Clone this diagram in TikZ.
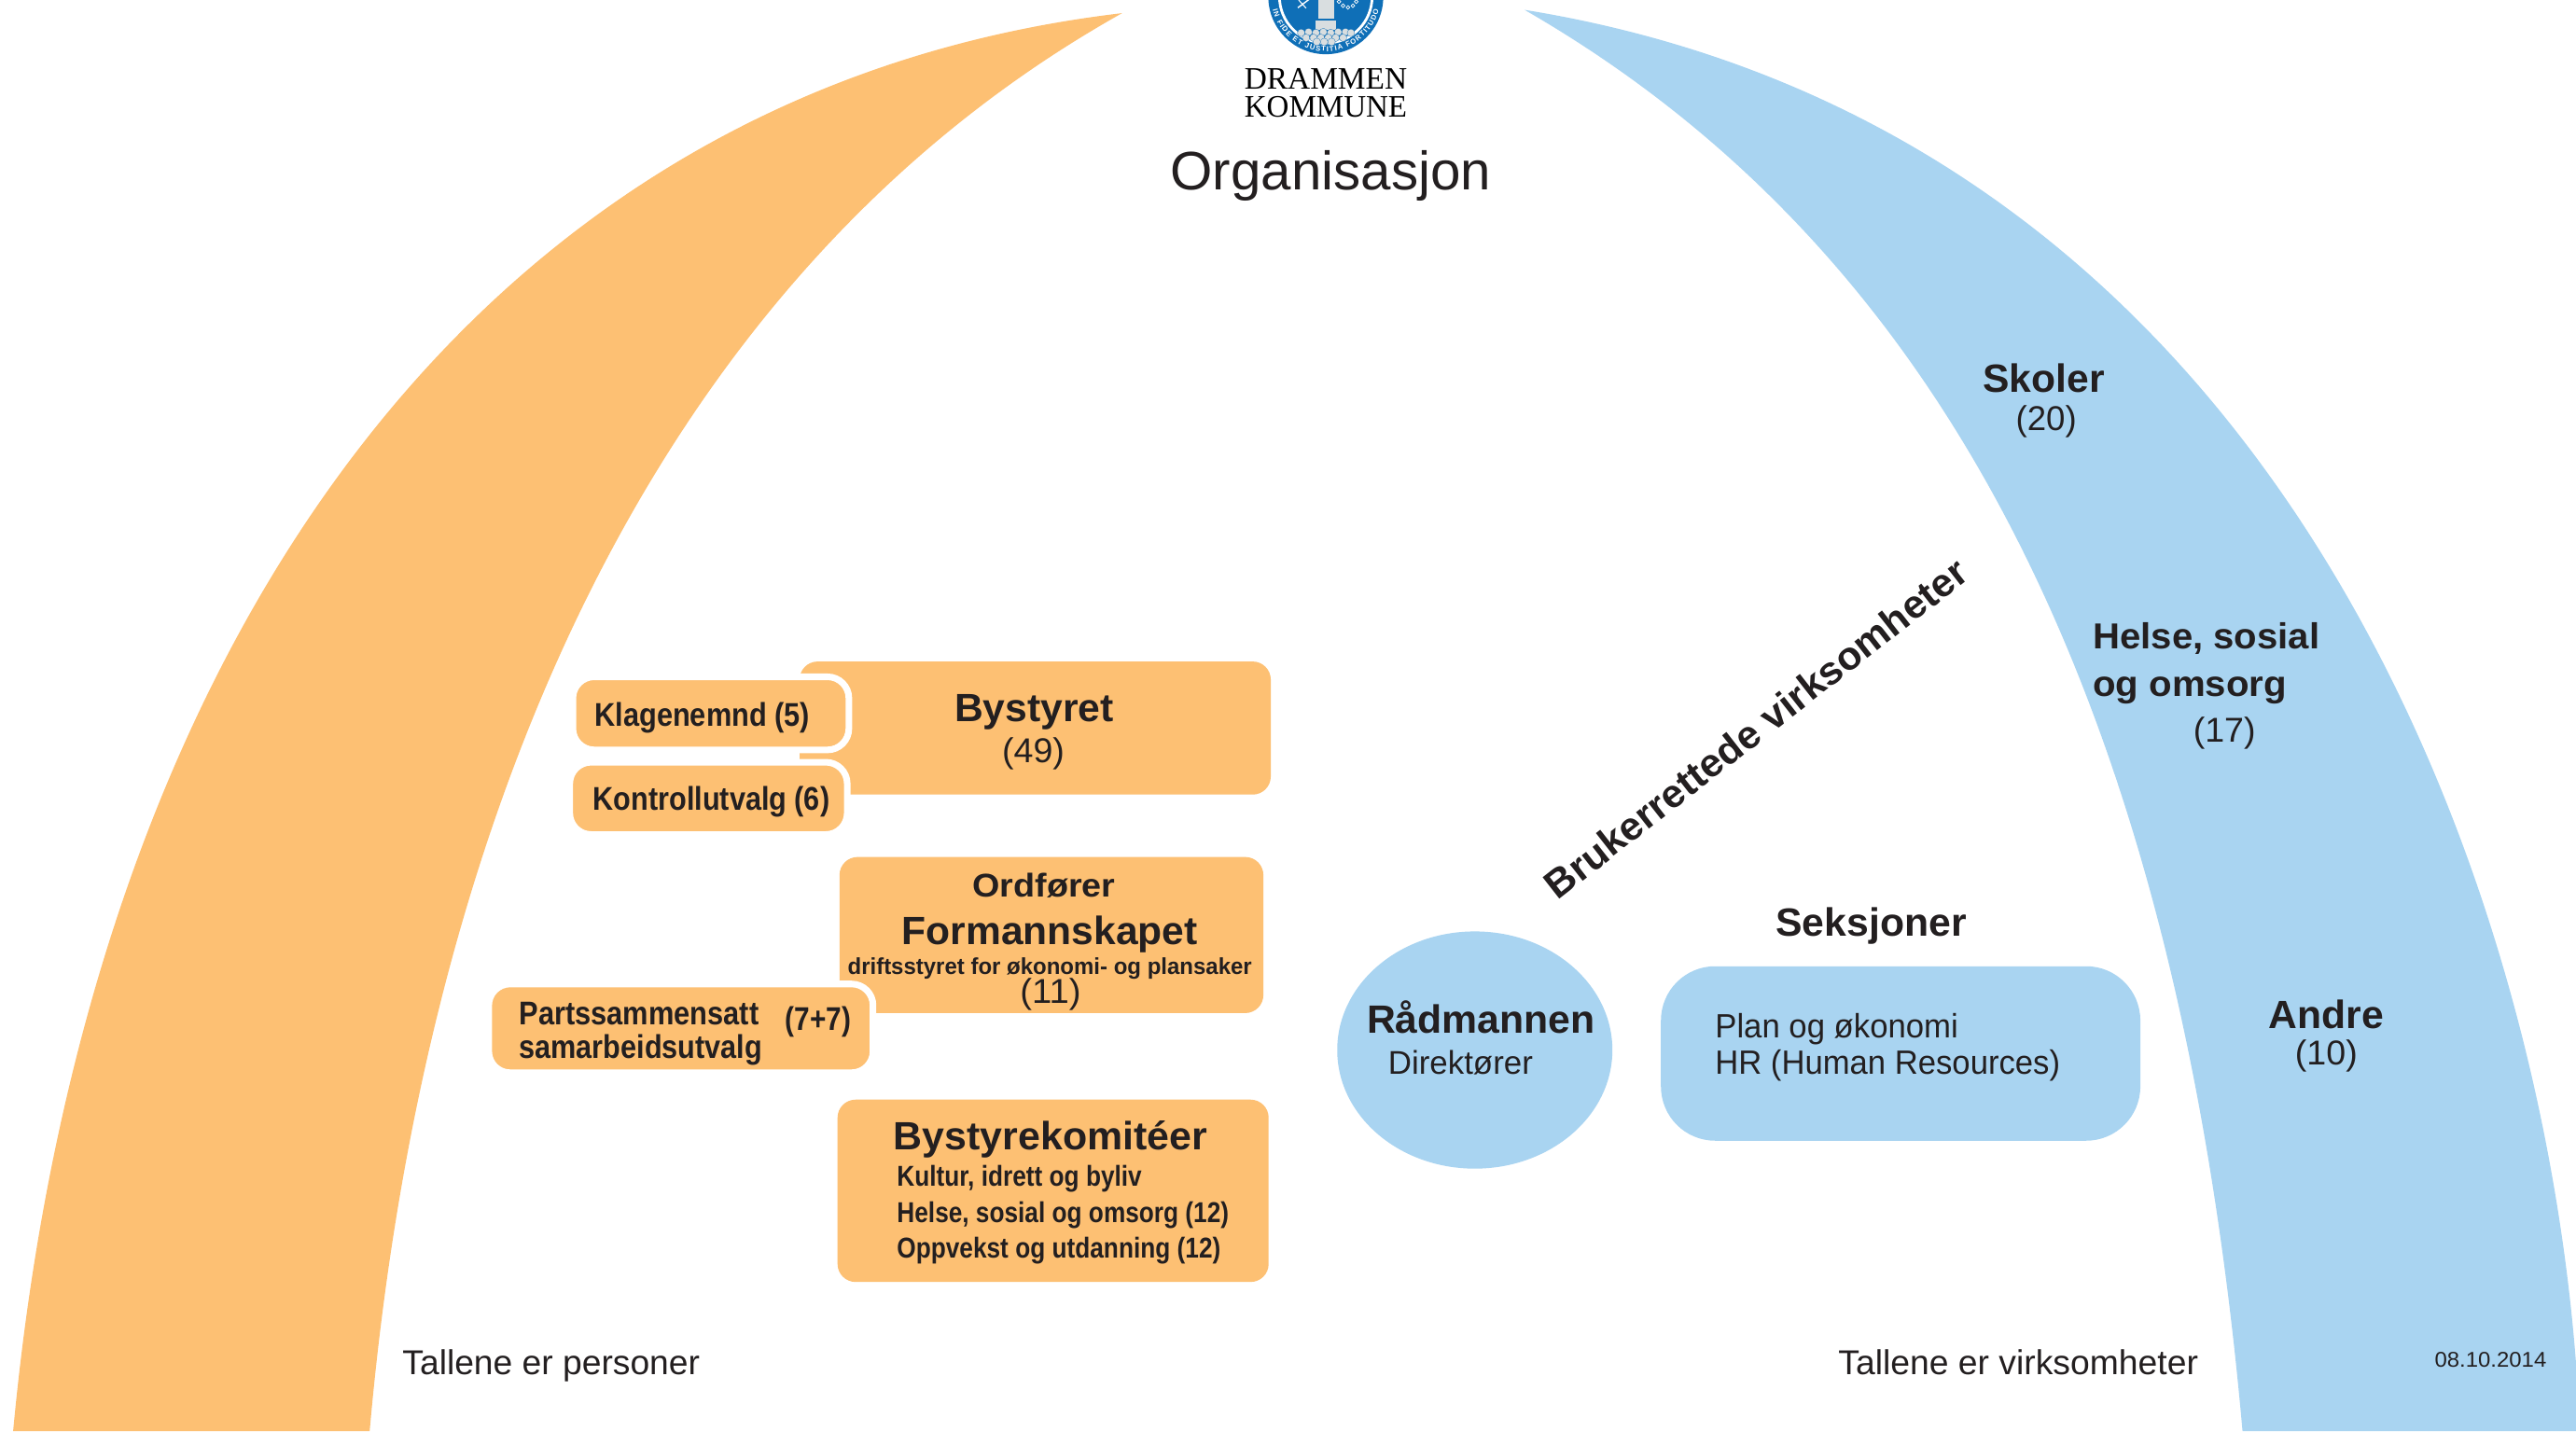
\documentclass[tikz,border=0pt]{standalone}
\usepackage{fontspec}
\usepackage{graphicx}
\usetikzlibrary{decorations.text,shapes.geometric}
\setmainfont{Liberation Sans}
\newfontfamily\serifdk{Liberation Serif}
\definecolor{orangefill}{HTML}{FDC073}
\definecolor{bluefill}{HTML}{A9D4F1}
\definecolor{ink}{HTML}{231F20}
\definecolor{sealblue}{HTML}{0F6FB7}
\definecolor{sealgrey}{HTML}{D9DEE0}
% #1 target width in pt, #2 font size, #3 text
\newcommand{\fitB}[3]{\resizebox{#1pt}{\height}{\fontsize{#2}{#2}\selectfont\bfseries #3}}
\newcommand{\fitR}[3]{\resizebox{#1pt}{\height}{\fontsize{#2}{#2}\selectfont #3}}
\tikzset{
  x=1pt,y=-1pt,
  txt/.style={anchor=base west,inner sep=0pt,outer sep=0pt,text=ink},
  orangebox/.style={fill=orangefill,rounded corners=11pt,inner sep=0pt,outer sep=0pt,anchor=north west},
  orangeedge/.style={fill=orangefill,draw=white,line width=4pt,rounded corners=13pt,inner sep=0pt,outer sep=0pt,anchor=north west},
  stone/.style={fill=sealgrey,draw=sealblue,line width=.15pt},
}
\begin{document}
\begin{tikzpicture}
\useasboundingbox (0,0) rectangle (1568,871.2);
\fill[white] (0,0) rectangle (1568,871.2);
\begin{scope}
\clip (0,0) rectangle (1568,871.2);
% arcs
\fill[orangefill] (683,8) .. controls (285,55) and (52,400) .. (8,871.2) -- (225,871.2)
   .. controls (255,530) and (380,178) .. (683,8) -- cycle;
\fill[bluefill] (928,6) .. controls (1385,80) and (1545,530) .. (1568,830) -- (1568,871.2) -- (1365,871.2)
   .. controls (1325,420) and (1178,150) .. (928,6) -- cycle;
% seal
\fill[sealblue] (807,-2) circle (35);
\draw[white,line width=1.6pt] (807,-2) circle (28.2);
\path[decorate,decoration={text along path,text align={fit to path},
   text={|\fontsize{4.4}{5}\selectfont\bfseries\color{white}|IN FIDE ET JUSTITIA FORTITUDO}}]
   (774.69,6.06) arc[start angle=194,end angle=346,radius=33.3,y radius=-33.3];
\fill[sealgrey] (802.6,-3) rectangle (812,11.6);
\fill[sealgrey] (800.7,12.3) rectangle (813,18);
\foreach \px/\py in {792/20,796.5/19.5,801/20,805.5/19.5,810/20,814.5/19.5,819/19.5,822.3/20,
                     795/23,799.5/23,804/23,808.5/23,813/23,817.5/23,801.5/25.5,806/25.5,810.5/25.5}
   \fill[stone] (\px,\py) circle (2.3);
\draw[white,line width=.8pt] (790,4.7) -- (797,-.5);
\draw[white,line width=.6pt] (790.5,0) -- (795,5);
\foreach \px/\py in {815/1,817.5/3.5,820.5/4.5,823.5/3.5,825.5/1}
   \draw[white,line width=.4pt] (\px,\py) circle (1.1);
\end{scope}
% boxes
\node[orangebox,minimum width=286.8pt,minimum height=81pt] (bystyret) at (486.7,402.7) {};
\node[orangeedge,minimum width=168pt,minimum height=44.5pt] (klage) at (348.7,412) {};
\node[orangeedge,minimum width=168.9pt,minimum height=44pt] (kontroll) at (346.8,464) {};
\node[orangebox,minimum width=258pt,minimum height=95pt] (formann) at (511,521.7) {};
\node[orangeedge,minimum width=233.9pt,minimum height=54pt] (parts) at (297.5,599) {};
\node[orangebox,minimum width=262.4pt,minimum height=111pt] (komite) at (509.8,669.4) {};
\node[ellipse,fill=bluefill,minimum width=167.5pt,minimum height=144.4pt,inner sep=0pt] (rad) at (897.7,639.2) {};
\node[fill=bluefill,rounded corners=33pt,minimum width=291.8pt,minimum height=106.2pt,inner sep=0pt,outer sep=0pt,anchor=north west] (seksj) at (1011,588.2) {};
% header
\node[txt,text=black] (dr) at (757.5,54) {\fitR{99}{19}{\serifdk DRAMMEN}};
\node[txt,text=black] (ko) at (757.5,71) {\fitR{99}{19}{\serifdk KOMMUNE}};
\node[txt] (org) at (712.5,115.5) {\fitR{195}{33}{Organisasjon}};
% left
\node[txt] (t1) at (581,439) {\fitB{97}{24}{Bystyret}};
\node[txt] (t2) at (610,464) {\fitR{38}{21}{(49)}};
\node[txt] (t3) at (362,442) {\fitB{131}{20}{Klagenemnd (5)}};
\node[txt] (t4) at (361,493) {\fitB{144}{20}{Kontrollutvalg (6)}};
\node[txt] (t5) at (592,546) {\fitB{87}{20}{Ordfører}};
\node[txt] (t6) at (549,575) {\fitB{180}{24}{Formannskapet}};
\node[txt] (t7) at (516,593) {\fitB{246}{14}{driftsstyret for økonomi- og plansaker}};
\node[txt] (t8) at (621,611) {\fitR{37}{21}{(11)}};
\node[txt] (t9) at (316,624) {\fitB{146}{20}{Partssammensatt}};
\node[txt] (t10) at (316,644) {\fitB{148}{20}{samarbeidsutvalg}};
\node[txt] (t11) at (478,627) {\fitB{40}{20}{(7+7)}};
\node[txt] (t12) at (544,700) {\fitB{191}{24}{Bystyrekomitéer}};
\node[txt] (t13) at (546,722) {\fitB{149}{17.5}{Kultur, idrett og byliv}};
\node[txt] (t14) at (546,744) {\fitB{202}{17.5}{Helse, sosial og omsorg (12)}};
\node[txt] (t15) at (546,766) {\fitB{197}{17.5}{Oppvekst og utdanning (12)}};
\node[txt] (t16) at (245,837) {\fitR{181}{21}{Tallene er personer}};
% right
\node[txt] (r1) at (1119,837) {\fitR{219}{21}{Tallene er virksomheter}};
\node[txt] (r2) at (1482,832) {\fitR{68}{13}{08.10.2014}};
\node[txt] (r3) at (1207,239) {\fitB{74}{24}{Skoler}};
\node[txt] (r4) at (1227,262) {\fitR{37}{21}{(20)}};
\node[txt] (r5) at (1274,395) {\fitB{138}{22}{Helse, sosial}};
\node[txt] (r6) at (1274,424) {\fitB{118}{22}{og omsorg}};
\node[txt] (r7) at (1335,452) {\fitR{38}{21}{(17)}};
\node[txt] (r8) at (1381,626) {\fitB{70}{24}{Andre}};
\node[txt] (r9) at (1397,648) {\fitR{38}{21}{(10)}};
\node[anchor=base,inner sep=0pt,text=ink,rotate=38] (r10) at (1074,450) {\fitB{319}{24}{Brukerrettede virksomheter}};
\node[txt] (r11) at (1081,570) {\fitB{116}{24}{Seksjoner}};
\node[txt] (r12) at (832,629) {\fitB{139}{24}{Rådmannen}};
\node[txt] (r13) at (845,654) {\fitR{88}{20}{Direktører}};
\node[txt] (r14) at (1044,632) {\fitR{148}{20.5}{Plan og økonomi}};
\node[txt] (r15) at (1044,654) {\fitR{210}{20.5}{HR (Human Resources)}};
\end{tikzpicture}
\end{document}
